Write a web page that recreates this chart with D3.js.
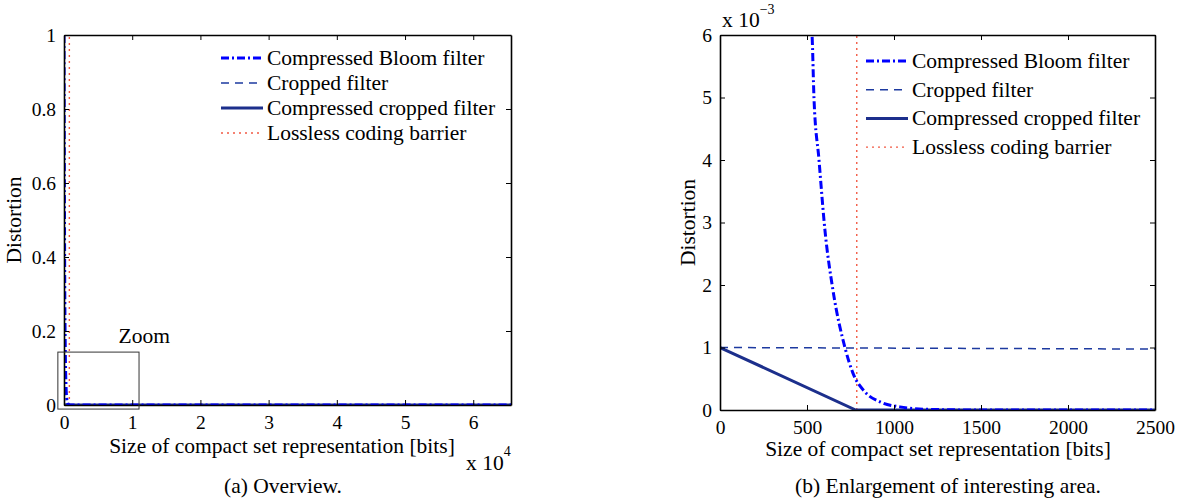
<!DOCTYPE html>
<html>
<head>
<meta charset="utf-8">
<script src="https://cdn.jsdelivr.net/npm/d3@7"></script>
<style>
  body { margin:0; background:#fff; }
  svg { font-family:"Liberation Serif","Times New Roman",serif; }
</style>
</head>
<body>
<svg id="chart" width="1199" height="500"></svg>
<script>
// data (bits, distortion)
var bloomX = [0, 100, 200, 300, 400, 500, 529, 540, 569, 603, 649, 718, 764, 833, 920, 1034, 1200, 1500, 2500, 65536];
var bloomY = [1.0, 0.37, 0.135, 0.05, 0.018, 0.0067, 0.0060, 0.0050, 0.0040, 0.00288, 0.00192, 0.00100, 0.00059, 0.00029, 0.00013, 0.00005, 0.00001, 0, 0, 0];
var cropX = [0, 2500, 65536];
var cropY = [0.001, 0.000975, 0];
var ccX = [0, 780, 2500, 65536];
var ccY = [0.001, 0, 0, 0];
var barrierX = [786, 786];
var barrierY = [0, 1];

var seriesNames = ["Compressed Bloom filter", "Cropped filter", "Compressed cropped filter", "Lossless coding barrier"];
var leftXTicks = [0, 10000, 20000, 30000, 40000, 50000, 60000];
var leftYTicks = [0, 0.2, 0.4, 0.6, 0.8, 1];
var rightXTicks = [0, 500, 1000, 1500, 2000, 2500];
var rightYTicks = [0, 0.001, 0.002, 0.003, 0.004, 0.005, 0.006];
var zoomBox = {x0:-900, x1:11000, y0:-0.011, y1:0.143};

var styles = [
  {color:"#0000ff", width:3, dash:"8,3,2,3", curve:d3.curveMonotoneX},
  {color:"#1d3aa0", width:1.5, dash:"8,6", curve:d3.curveLinear},
  {color:"#1c2f8c", width:3, dash:null, curve:d3.curveLinear},
  {color:"#f25a44", width:1.4, dash:"2,4", curve:d3.curveLinear}
];

var svg = d3.select("#chart");
var fs = 21.5, tickFs = 19.5;

function zip(xs, ys) { return xs.map(function(x,i){ return [x, ys[i]]; }); }
var seriesData = [zip(bloomX,bloomY), zip(cropX,cropY), zip(ccX,ccY), zip(barrierX,barrierY)];

var drawPanel = function(p)
{
  var xScale = d3.scaleLinear().domain(p.xDomain).range([p.left, p.right]);
  var yScale = d3.scaleLinear().domain(p.yDomain).range([p.bottom, p.top]);
  var g = svg.append("g").attr("class", p.id);

  g.append("clipPath").attr("id","clip-"+p.id)
   .append("rect")
   .attr("x",p.left).attr("y",p.top)
   .attr("width",p.right-p.left).attr("height",p.bottom-p.top);

  var plot = g.append("g").attr("clip-path","url(#clip-"+p.id+")");
  // draw order: barrier, cropped, compressed cropped, bloom
  [3,1,2,0].forEach(function(i){
    var line = d3.line()
                 .x(function(d){ return xScale(d[0]); })
                 .y(function(d){ return yScale(d[1]); })
                 .curve(styles[i].curve);
    plot.append("path")
        .datum(seriesData[i])
        .attr("d", line)
        .attr("fill","none")
        .attr("stroke",styles[i].color)
        .attr("stroke-width",styles[i].width)
        .attr("stroke-dasharray",styles[i].dash);
  });

  // axes, ticks pointing inward
  g.append("g").attr("transform","translate(0,"+p.bottom+")")
   .call(d3.axisBottom(xScale).tickValues(p.xTicks).tickSizeInner(-5).tickSizeOuter(0).tickPadding(10).tickFormat(function(d){ return d3.format("~g")(d/p.xDiv); }));
  g.append("g").attr("transform","translate(0,"+p.top+")")
   .call(d3.axisTop(xScale).tickValues(p.xTicks).tickSizeInner(-5).tickSizeOuter(0).tickFormat(""));
  g.append("g").attr("transform","translate("+p.left+",0)")
   .call(d3.axisLeft(yScale).tickValues(p.yTicks).tickSizeInner(-5).tickSizeOuter(0).tickPadding(8).tickFormat(function(d){ return d3.format("~g")(+(d/p.yDiv).toFixed(4)); }));
  g.append("g").attr("transform","translate("+p.right+",0)")
   .call(d3.axisRight(yScale).tickValues(p.yTicks).tickSizeInner(-5).tickSizeOuter(0).tickFormat(""));

  g.selectAll(".domain").attr("stroke","#000").attr("stroke-width",1.6);
  g.selectAll(".tick line").attr("stroke","#000");
  g.selectAll(".tick text").attr("font-size",tickFs).attr("fill","#000")
   .attr("font-family","Liberation Serif");

  // labels
  g.append("text").attr("x",p.xlabX).attr("y",p.xlabY)
   .attr("text-anchor","middle").attr("font-size",fs).text("Size of compact set representation [bits]");
  g.append("text").attr("transform","translate("+p.ylabX+","+((p.top+p.bottom)/2)+") rotate(-90)")
   .attr("text-anchor","middle").attr("font-size",fs).text("Distortion");
  g.append("text").attr("x",p.capX).attr("y",493)
   .attr("text-anchor","middle").attr("font-size",fs).text(p.caption);

  // legend
  var legend = g.append("g").attr("transform","translate("+p.legX+","+p.legY+")");
  var rows = legend.selectAll("g").data(seriesNames).enter().append("g")
                   .attr("transform",function(d,i){ return "translate(0,"+(i*p.legStep)+")"; });
  rows.append("line").attr("x1",0).attr("x2",42).attr("y1",0).attr("y2",0)
      .attr("stroke",function(d,i){ return styles[i].color; })
      .attr("stroke-width",function(d,i){ return styles[i].width; })
      .attr("stroke-dasharray",function(d,i){ return styles[i].dash; });
  rows.append("text").attr("x",46).attr("y",7).attr("font-size",fs).text(function(d){ return d; });

  return {x:xScale, y:yScale, g:g};
};

var left = drawPanel({id:"a", xDomain:[0,65536], yDomain:[0,1], left:64, right:511, top:35, bottom:405,
  xTicks:leftXTicks, yTicks:leftYTicks, xDiv:10000, yDiv:1, ylabX:21, xlabX:282, xlabY:453, capX:283,
  caption:"(a) Overview.", legX:221, legY:58, legStep:25});

var right = drawPanel({id:"b", xDomain:[0,2500], yDomain:[0,0.006], left:720, right:1155, top:35, bottom:410,
  xTicks:rightXTicks, yTicks:rightYTicks, xDiv:1, yDiv:0.001, ylabX:695, xlabX:938, xlabY:456, capX:948,
  caption:"(b) Enlargement of interesting area.", legX:866, legY:61, legStep:28.7});

// zoom rectangle on the overview
left.g.append("rect")
  .attr("x",left.x(zoomBox.x0)).attr("y",left.y(zoomBox.y1))
  .attr("width",left.x(zoomBox.x1)-left.x(zoomBox.x0))
  .attr("height",left.y(zoomBox.y0)-left.y(zoomBox.y1))
  .attr("fill","none").attr("stroke","#333").attr("stroke-width",1);
left.g.append("text").attr("x",left.x(8000)).attr("y",left.y(zoomBox.y1)-9)
  .attr("font-size",fs).text("Zoom");

// exponent labels
var e1 = left.g.append("text").attr("x",466).attr("y",470).attr("font-size",fs);
e1.append("tspan").text("x 10");
e1.append("tspan").attr("dy",-14).attr("font-size",14).text("4");
var e2 = right.g.append("text").attr("x",722).attr("y",27).attr("font-size",fs);
e2.append("tspan").text("x 10");
e2.append("tspan").attr("dy",-13).attr("font-size",14).text("\u22123");
</script>
</body>
</html>
